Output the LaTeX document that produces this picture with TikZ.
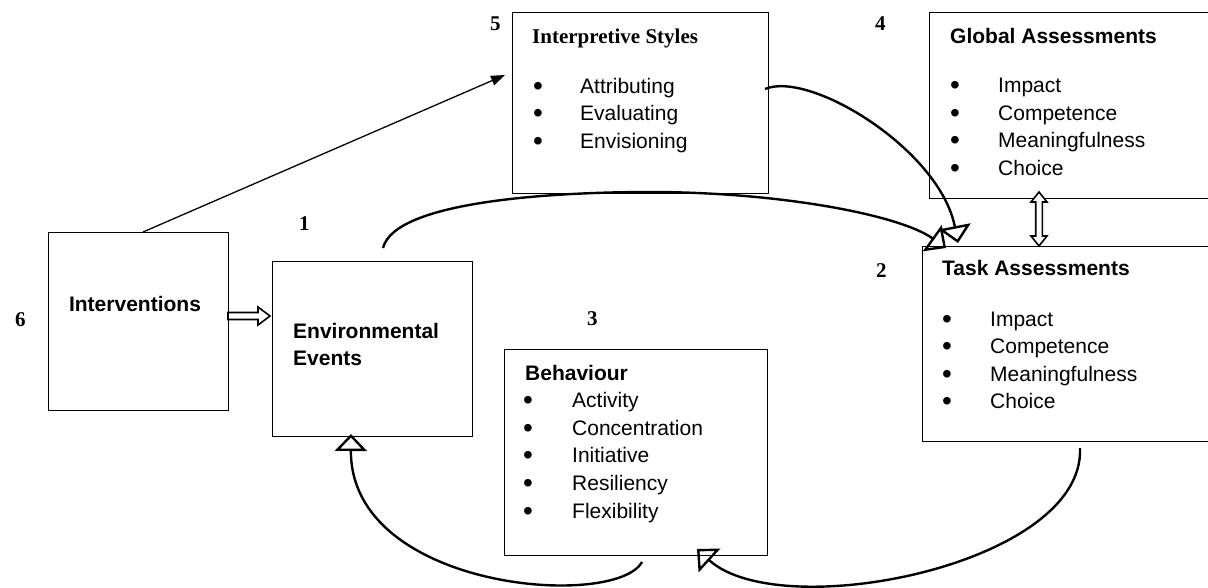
\documentclass[tikz,border=0pt]{standalone}
\usepackage{fontspec}
\setmainfont{Liberation Serif}
\setsansfont{Liberation Sans}
\usetikzlibrary{arrows.meta}
\newcommand{\bul}{\raisebox{-2.5pt}{\fontsize{28}{28}\selectfont •}}
\begin{document}
\begin{tikzpicture}[x=1pt,y=-1pt,
  box/.style={draw, line width=1.2pt, rectangle, inner sep=0pt, anchor=north west},
  txt/.style={anchor=base west, inner sep=0pt, font=\sffamily\fontsize{21}{25}\selectfont},
  hd/.style={anchor=base west, inner sep=0pt, font=\sffamily\bfseries\fontsize{21}{25}\selectfont},
  num/.style={anchor=base west, inner sep=0pt, font=\rmfamily\bfseries\fontsize{21}{25}\selectfont},
  dot/.style={anchor=base, inner sep=0pt, font=\sffamily\fontsize{21}{25}\selectfont},
  loop/.style={line width=2.4pt, -{Triangle[open, length=17pt, width=32pt]}},
  thinarrow/.style={line width=1.3pt, -{Triangle[length=14pt, width=10pt]}},
  block/.style={draw, fill=white, line width=1.6pt, line join=miter}
]
\useasboundingbox (0,0) rectangle (1208,587);

% boxes
\node[box, minimum width=180pt, minimum height=178pt] (iv)   at (48,232)  {};
\node[box, minimum width=200pt, minimum height=175pt] (env)  at (272,261) {};
\node[box, minimum width=263pt, minimum height=206pt] (beh)  at (504,349) {};
\node[box, minimum width=256pt, minimum height=181pt] (interp) at (512,12) {};
\node[box, minimum width=290pt, minimum height=186pt] (glob) at (929,12)  {};
\node[box, minimum width=297pt, minimum height=195pt] (task) at (922,246) {};

% numbers
\node[num] (n6) at (15,326)  {6};
\node[num] (n1) at (299,230) {1};
\node[num] (n2) at (876,277) {2};
\node[num] (n3) at (587,325) {3};
\node[num] (n4) at (875,30)  {4};
\node[num] (n5) at (490,30)  {5};

% Interventions
\node[hd, anchor=base] (ivt) at (135,311) {Interventions};

% Environmental Events
\node[hd] (envt1) at (293,338) {Environmental};
\node[hd] (envt2) at (293,365) {Events};

% Interpretive Styles
\node[num] (interpt) at (532,43) {Interpretive Styles};
\node[dot] (ib1) at (538,93)  {\bul}; \node[txt] (it1) at (580,93)  {Attributing};
\node[dot] (ib2) at (538,120) {\bul}; \node[txt] (it2) at (580,120) {Evaluating};
\node[dot] (ib3) at (538,148) {\bul}; \node[txt] (it3) at (580,148) {Envisioning};

% Global Assessments
\node[hd] (globt) at (950,43) {Global Assessments};
\node[dot] (gb1) at (955,92)  {\bul}; \node[txt] (gt1) at (998,92)  {Impact};
\node[dot] (gb2) at (955,120) {\bul}; \node[txt] (gt2) at (998,120) {Competence};
\node[dot] (gb3) at (955,147) {\bul}; \node[txt] (gt3) at (998,147) {Meaningfulness};
\node[dot] (gb4) at (955,175) {\bul}; \node[txt] (gt4) at (998,175) {Choice};

% Task Assessments
\node[hd] (taskt) at (942,275) {Task Assessments};
\node[dot] (tb1) at (947,326) {\bul}; \node[txt] (tt1) at (990,326) {Impact};
\node[dot] (tb2) at (947,353) {\bul}; \node[txt] (tt2) at (990,353) {Competence};
\node[dot] (tb3) at (947,381) {\bul}; \node[txt] (tt3) at (990,381) {Meaningfulness};
\node[dot] (tb4) at (947,408) {\bul}; \node[txt] (tt4) at (990,408) {Choice};

% Behaviour
\node[hd] (beht) at (525,380) {Behaviour};
\node[dot] (bb1) at (528,407) {\bul}; \node[txt] (bt1) at (572,407) {Activity};
\node[dot] (bb2) at (528,435) {\bul}; \node[txt] (bt2) at (572,435) {Concentration};
\node[dot] (bb3) at (528,462) {\bul}; \node[txt] (bt3) at (572,462) {Initiative};
\node[dot] (bb4) at (528,490) {\bul}; \node[txt] (bt4) at (572,490) {Resiliency};
\node[dot] (bb5) at (528,518) {\bul}; \node[txt] (bt5) at (572,518) {Flexibility};

% connector end points
\coordinate (ivtop)   at (143,232);
\coordinate (intin)   at (505,75);
\coordinate (envtop)  at (383,248);
\coordinate (taskin1) at (946,248);
\coordinate (intout)  at (765,89);
\coordinate (taskin2) at (958,243);
\coordinate (taskout) at (1080,448);
\coordinate (behin)   at (697,549);
\coordinate (behout)  at (642,562);
\coordinate (envin)   at (351,434);

% thin arrow: Interventions -> Interpretive Styles
\draw[thinarrow] (ivtop) -- (intin);

% Environmental Events -> Task Assessments
\draw[loop] (envtop) .. controls (395,200) and (560,192) .. (650,192)
                     .. controls (780,192) and (900,215) .. (taskin1);

% Interpretive Styles -> Task Assessments
\draw[loop] (intout) .. controls (810,70) and (940,150) .. (taskin2);

% Task Assessments -> Behaviour
\draw[loop] (taskout) .. controls (1085,565) and (780,625) .. (behin);

% Behaviour -> Environmental Events
\draw[loop] (behout) .. controls (615,610) and (350,590) .. (envin);

% hollow block arrow: Interventions -> Environmental Events
\draw[block] (228,312.5) -- (258,312.5) -- (258,307) -- (270,316)
             -- (258,325) -- (258,319.5) -- (228,319.5) -- cycle;

% hollow double-headed block arrow: Global <-> Task Assessments
\draw[block] (1039,192) -- (1047,202) -- (1042.3,202) -- (1042.3,236)
             -- (1047,236) -- (1039,246) -- (1031,236) -- (1035.7,236)
             -- (1035.7,202) -- (1031,202) -- cycle;
\end{tikzpicture}
\end{document}
